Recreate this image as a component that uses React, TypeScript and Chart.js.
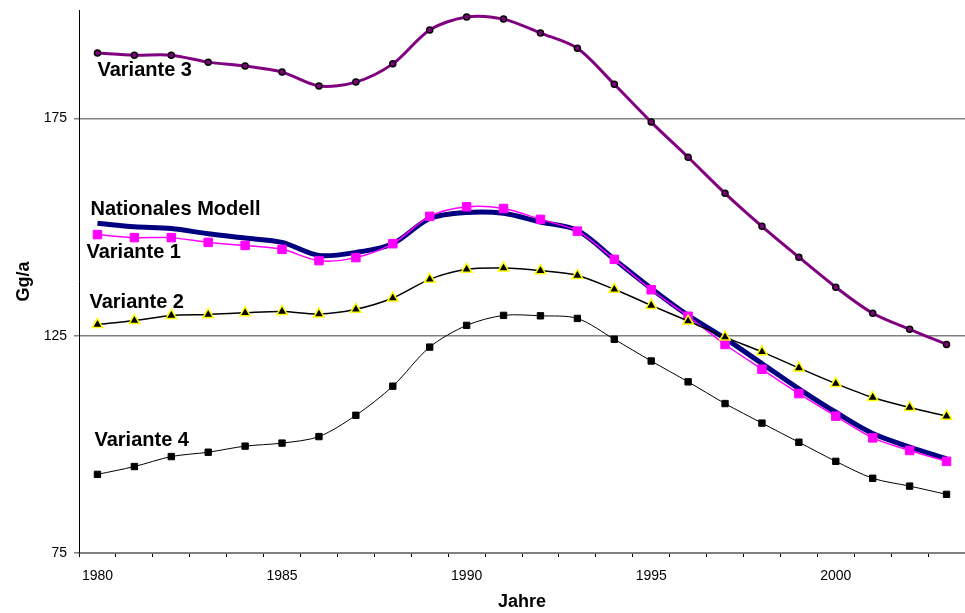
import React, { useEffect, useRef } from "react";
import { Chart, registerables } from "chart.js";

Chart.register(...registerables);

const years = [
  "1980", "1981", "1982", "1983", "1984", "1985", "1986", "1987", "1988", "1989",
  "1990", "1991", "1992", "1993", "1994", "1995", "1996", "1997", "1998", "1999",
  "2000", "2001", "2002", "2003",
];

const variante3 = [
  190.1, 189.6, 189.6, 188.0, 187.1, 185.7, 182.5, 183.4, 187.6, 195.4,
  198.4, 197.9, 194.7, 191.2, 182.9, 174.2, 166.1, 157.8, 150.2, 143.1,
  136.2, 130.2, 126.5, 123.0,
];

const nationalesModell = [
  150.9, 150.1, 149.7, 148.5, 147.5, 146.5, 143.5, 144.2, 146.2, 152.0,
  153.4, 153.2, 151.2, 149.3, 142.6, 135.9, 129.7, 124.4, 118.6, 112.8,
  107.4, 102.5, 99.4, 96.7,
];

const variante1 = [
  148.3, 147.6, 147.6, 146.5, 145.8, 144.9, 142.3, 143.0, 146.2, 152.5,
  154.7, 154.3, 151.8, 149.1, 142.6, 135.6, 129.5, 123.0, 117.3, 111.7,
  106.5, 101.5, 98.6, 96.1,
];

const variante2 = [
  127.6, 128.5, 129.7, 129.9, 130.3, 130.6, 130.0, 131.1, 133.7, 138.0,
  140.3, 140.6, 140.0, 138.9, 135.7, 132.0, 128.4, 124.7, 121.3, 117.6,
  114.0, 110.8, 108.5, 106.5,
];

const variante4 = [
  93.1, 94.9, 97.2, 98.2, 99.6, 100.3, 101.8, 106.7, 113.4, 122.4,
  127.4, 129.7, 129.6, 129.0, 124.2, 119.2, 114.4, 109.4, 104.9, 100.5,
  96.1, 92.2, 90.4, 88.5,
];

const yTicks = [75, 125, 175];

const seriesLabels = {
  v1: "Variante 1",
  v2: "Variante 2",
  v3: "Variante 3",
  v4: "Variante 4",
  nm: "Nationales Modell",
};

// pixel offsets of the in-chart series labels, relative to the first point of each series
const labelOffsets: Record<string, [number, number]> = {
  [seriesLabels.v3]: [0, 17],
  [seriesLabels.nm]: [-7, -14],
  [seriesLabels.v1]: [-11, 18],
  [seriesLabels.v2]: [-8, -22],
  [seriesLabels.v4]: [-3, -34],
};

const FONT = "'Liberation Sans', Arial, Helvetica, sans-serif";

const seriesLabelPlugin = {
  id: "seriesLabels",
  afterDatasetsDraw(chart: any) {
    const ctx = chart.ctx;
    ctx.save();
    ctx.font = `bold 20px ${FONT}`;
    ctx.fillStyle = "#000";
    ctx.textAlign = "left";
    ctx.textBaseline = "middle";
    chart.data.datasets.forEach((ds: any, i: number) => {
      const meta = chart.getDatasetMeta(i);
      const p = meta.data[0];
      const off = labelOffsets[ds.label];
      if (!p || !off) return;
      ctx.fillText(ds.label, p.x + off[0], p.y + off[1]);
    });
    ctx.restore();
  },
};

export default function App() {
  const canvasRef = useRef<HTMLCanvasElement | null>(null);

  useEffect(() => {
    document.body.style.margin = "0";
    const canvas = canvasRef.current;
    if (!canvas) return;
    const chart = new Chart(canvas, {
      type: "line",
      data: {
        labels: years,
        datasets: [
          {
            label: seriesLabels.v2,
            data: variante2,
            borderColor: "#000000",
            borderWidth: 1.5,
            pointStyle: "triangle",
            pointRadius: 6,
            pointBackgroundColor: "#000000",
            pointBorderColor: "#FFFF00",
            pointBorderWidth: 1.5,
            tension: 0.3,
          },
          {
            label: seriesLabels.v1,
            data: variante1,
            borderColor: "#FF00FF",
            borderWidth: 1.5,
            pointStyle: "rect",
            pointRadius: 6,
            pointBackgroundColor: "#FF00FF",
            pointBorderColor: "#FF00FF",
            pointBorderWidth: 1,
            tension: 0.3,
          },
          {
            label: seriesLabels.nm,
            data: nationalesModell,
            borderColor: "#000080",
            borderWidth: 5,
            pointRadius: 0,
            tension: 0.3,
          },
          {
            label: seriesLabels.v4,
            data: variante4,
            borderColor: "#000000",
            borderWidth: 1,
            pointStyle: "rect",
            pointRadius: 4.5,
            pointBackgroundColor: "#000000",
            pointBorderColor: "#000000",
            pointBorderWidth: 1,
            tension: 0.3,
          },
          {
            label: seriesLabels.v3,
            data: variante3,
            borderColor: "#800080",
            borderWidth: 3,
            pointStyle: "circle",
            pointRadius: 3,
            pointBackgroundColor: "#800080",
            pointBorderColor: "#000000",
            pointBorderWidth: 1.5,
            tension: 0.3,
          },
        ],
      },
      options: {
        animation: false,
        responsive: true,
        maintainAspectRatio: false,
        layout: { autoPadding: false, padding: { top: 10, left: 0, right: 0, bottom: 0 } },
        plugins: {
          legend: { display: false },
          tooltip: { enabled: false },
        },
        scales: {
          x: {
            type: "category",
            offset: true,
            grid: {
              display: true,
              offset: true,
              drawOnChartArea: false,
              drawTicks: true,
              tickLength: 4,
              tickColor: "#000000",
              lineWidth: 1,
            },
            border: { display: true, color: "#808080", width: 2 },
            ticks: {
              autoSkip: false,
              maxRotation: 0,
              minRotation: 0,
              padding: 11,
              color: "#000",
              font: { family: FONT, size: 14 },
              callback: (_v: any, i: number) =>
                Number(years[i]) % 5 === 0 ? years[i] : "",
            },
            title: {
              display: true,
              text: "Jahre",
              color: "#000",
              font: { family: FONT, size: 18, weight: "bold" },
              padding: { top: 0, bottom: 0 },
            },
            afterFit: (scale: any) => {
              scale.height = 60;
              scale.paddingLeft = 0;
              scale.paddingRight = 0;
            },
          },
          y: {
            type: "linear",
            min: 75,
            max: 200,
            afterBuildTicks: (scale: any) => {
              scale.ticks = yTicks.map((v) => ({ value: v }));
            },
            grid: {
              color: "#808080",
              lineWidth: 1.5,
              drawTicks: true,
              tickLength: 5,
              tickColor: "#808080",
            },
            border: { display: true, color: "#000000", width: 1 },
            ticks: {
              padding: 7,
              color: "#000",
              font: { family: FONT, size: 14 },
            },
            title: {
              display: true,
              text: "Gg/a",
              color: "#000",
              font: { family: FONT, size: 18, weight: "bold" },
              padding: { top: 13, bottom: 0 },
            },
            afterFit: (scale: any) => {
              scale.width = 79;
              scale.paddingTop = 0;
              scale.paddingBottom = 0;
            },
          },
        },
      },
      plugins: [seriesLabelPlugin],
    });
    return () => chart.destroy();
  }, []);

  return (
    <div style={{ width: 965, height: 613, position: "relative" }}>
      <canvas ref={canvasRef} />
    </div>
  );
}
